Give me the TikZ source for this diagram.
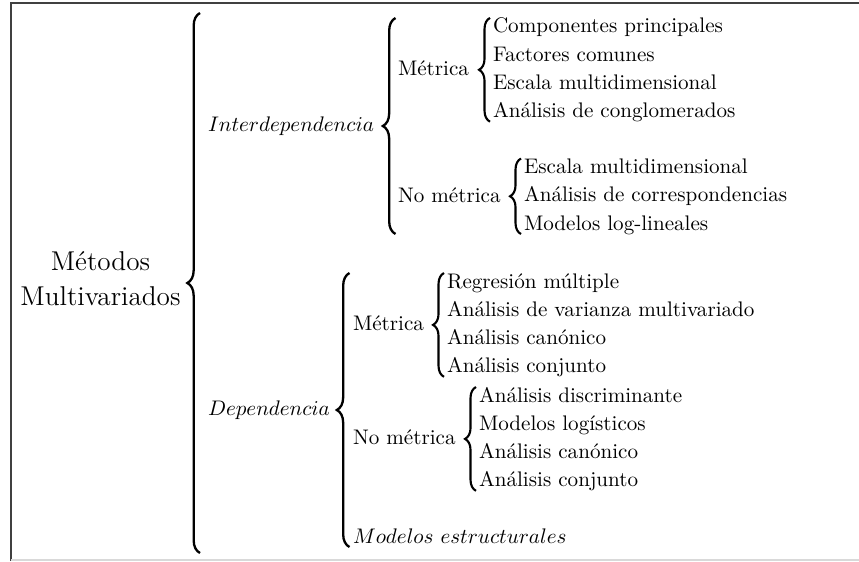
\documentclass[tikz,border=0pt]{standalone}
\usepackage{tikz}
\usetikzlibrary{positioning}
\usetikzlibrary{calc}
\usetikzlibrary{decorations.pathreplacing}

\begin{document}
\begin{tikzpicture}[
x=0.474pt, y=-0.474pt,
every node/.style={inner sep=0, outer sep=0},
rama/.style={anchor=base west},
item/.style={anchor=base west, text height=9.4pt, text depth=4pt},
llave/.style={decorate, decoration={brace, amplitude=5.2pt}, line width=1pt},
llavegrande/.style={decorate, decoration={brace, amplitude=6pt}, line width=1.1pt}
]
\useasboundingbox (0,0) rectangle (859,561);
\draw[line width=1pt, black!75] (11,561) -- (11,3) -- (859,3);
\draw[line width=0.6pt, black!15] (11,560) -- (859,560);

\node[align=center, font=\fontsize{12.9}{16.6}\selectfont] (metodos) at (100.5,279) {Métodos\\Multivariados};

\node[rama] (inter) at (208,131) {$Interdependencia$};
\node[rama] (dep) at (208,415) {$Dependencia$};

\node[rama] (metA) at (398,75) {Métrica};
\node[rama] (noA) at (398,202) {No métrica};
\node[rama] (metD) at (353,330) {Métrica};
\node[rama] (noD) at (353,444) {No métrica};
\node[rama] (modelos) at (353,543) {$Modelos\ estructurales$};

\node[item] (a1) at (493,32.9) {Componentes principales};
\node[item, below=0pt of a1.south west, anchor=north west] (a2) {Factores comunes};
\node[item, below=0pt of a2.south west, anchor=north west] (a3) {Escala multidimensional};
\node[item, below=0pt of a3.south west, anchor=north west] (a4) {Análisis de conglomerados};

\node[item] (b1) at (524,173.5) {Escala multidimensional};
\node[item, below=0pt of b1.south west, anchor=north west] (b2) {Análisis de correspondencias};
\node[item, below=0pt of b2.south west, anchor=north west] (b3) {Modelos log-lineales};

\node[item] (c1) at (447,288) {Regresión múltiple};
\node[item, below=0pt of c1.south west, anchor=north west] (c2) {Análisis de varianza multivariado};
\node[item, below=0pt of c2.south west, anchor=north west] (c3) {Análisis canónico};
\node[item, below=0pt of c3.south west, anchor=north west] (c4) {Análisis conjunto};

\node[item] (d1) at (479,402) {Análisis discriminante};
\node[item, below=0pt of d1.south west, anchor=north west] (d2) {Modelos logísticos};
\node[item, below=0pt of d2.south west, anchor=north west] (d3) {Análisis canónico};
\node[item, below=0pt of d3.south west, anchor=north west] (d4) {Análisis conjunto};

\draw[llavegrande] ($(dep.base west)+(-8,138)$) -- ($(inter.base west)+(-8,-118)$);
\draw[llavegrande] ($(noA.base west)+(-2.5,32)$) -- ($(metA.base west)+(-2.5,-57)$);
\draw[llavegrande] ($(modelos.base west)+(-3.5,4)$) -- ($(metD.base west)+(-3.5,-57)$);
\draw[llave] ($(a4.base west)+(-3,4)$) -- ($(a1.base west)+(-3,-15)$);
\draw[llave] ($(b3.base west)+(-3,4)$) -- ($(b1.base west)+(-3,-15)$);
\draw[llave] ($(c4.base west)+(-3,4)$) -- ($(c1.base west)+(-3,-15)$);
\draw[llave] ($(d4.base west)+(-3,4)$) -- ($(d1.base west)+(-3,-15)$);
\end{tikzpicture}
\end{document}
